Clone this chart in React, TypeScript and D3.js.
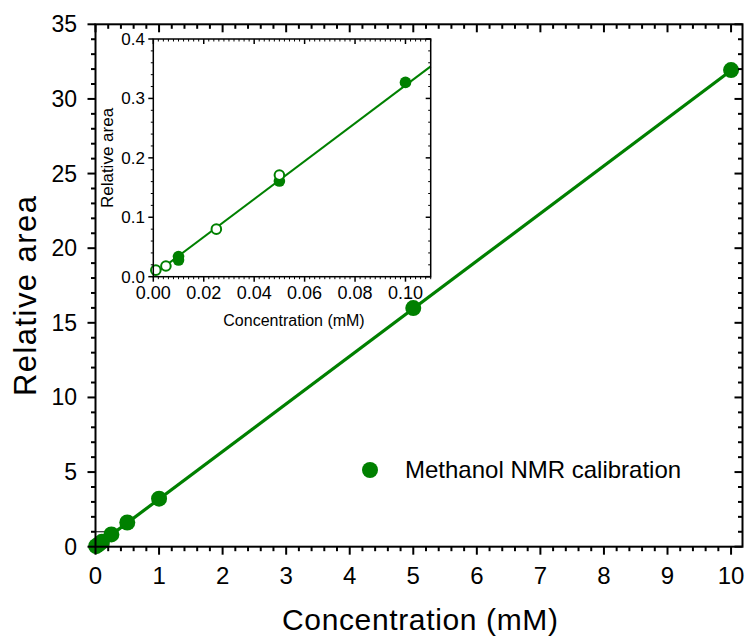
import React from "react";
import * as d3 from "d3";

// ---- data ----
const mainConc = [0.01, 0.05, 0.1, 0.25, 0.5, 1, 5, 10];
const mainArea = [0.033, 0.161, 0.327, 0.82, 1.62, 3.22, 15.99, 31.93];
const insetFilledConc = [0.01, 0.01, 0.05, 0.1];
const insetFilledArea = [0.028, 0.034, 0.161, 0.327];
const insetOpenConc = [0.001, 0.005, 0.025, 0.05];
const insetOpenArea = [0.011, 0.018, 0.08, 0.171];
const fitSlope = 3.19;
const fitIntercept = 0.003;
const mainXTicks = [0, 1, 2, 3, 4, 5, 6, 7, 8, 9, 10];
const mainYTicks = [0, 5, 10, 15, 20, 25, 30, 35];
const insetXTicks = [0, 0.02, 0.04, 0.06, 0.08, 0.1];
const insetYTicks = [0, 0.1, 0.2, 0.3, 0.4];
const legendLabel = "Methanol NMR calibration";
const xTitle = "Concentration (mM)";
const yTitle = "Relative area";

const GREEN = "#008000";
const FONT = "'Liberation Sans', Arial, sans-serif";

export default function App() {
  const W = 748, H = 639;
  const M = { left: 95.5, right: 742.5, top: 24.3, bottom: 546.7 };
  const I = { left: 153.3, right: 430.7, top: 39, bottom: 276.7 };

  const x = d3.scaleLinear().domain([0, 10.18]).range([M.left, M.right]);
  const y = d3.scaleLinear().domain([0, 35]).range([M.bottom, M.top]);
  const ix = d3.scaleLinear().domain([0, 0.11]).range([I.left, I.right]);
  const iy = d3.scaleLinear().domain([0, 0.4]).range([I.bottom, I.top]);

  const mainMinorX = d3.range(0, 10.19, 0.2).filter((v) => Math.abs(v - Math.round(v)) > 1e-6);
  const mainMinorY = d3.range(0, 35.01, 1).filter((v) => v % 5 !== 0);
  const insetMinorX = d3.range(0, 0.1101, 0.002).filter((v) => Math.abs(v / 0.02 - Math.round(v / 0.02)) > 1e-6);
  const insetMinorY = d3.range(0, 0.4001, 0.02).filter((v) => Math.abs(v / 0.1 - Math.round(v / 0.1)) > 1e-6);

  const line = d3.line<number>().x((d) => x(d)).y((d) => y(fitSlope * d + fitIntercept));
  const iline = d3.line<number>().x((d) => ix(d)).y((d) => iy(fitSlope * d + fitIntercept));

  const fmt2 = d3.format(".2f");
  const fmt1 = d3.format(".1f");

  return (
    <svg width={W} height={H} style={{ position: "absolute", left: 0, top: 0, background: "#fff" }} fontFamily={FONT}>
      {/* main fit line */}
      <path d={line([0, 10]) || ""} stroke={GREEN} strokeWidth={3.2} fill="none" />
      {/* zoom rectangle */}
      <rect x={x(0)} y={y(1)} width={x(0.21) - x(0)} height={y(0) - y(1)} fill="none" stroke="#000" strokeWidth={1} />
      {/* main markers */}
      {mainConc.map((c, i) => (
        <circle key={i} cx={x(c)} cy={y(mainArea[i])} r={8} fill={GREEN} />
      ))}

      {/* main axes frame */}
      <rect x={M.left} y={M.top} width={M.right - M.left} height={M.bottom - M.top} fill="none" stroke="#000" strokeWidth={2} />
      {mainXTicks.map((t) => (
        <g key={"mx" + t}>
          <line x1={x(t)} x2={x(t)} y1={M.bottom} y2={M.bottom + 8} stroke="#000" strokeWidth={2} />
          <line x1={x(t)} x2={x(t)} y1={M.top} y2={M.top + 8} stroke="#000" strokeWidth={2} />
          <text x={x(t)} y={584} fontSize={24} textAnchor="middle">{t}</text>
        </g>
      ))}
      {mainMinorX.map((t, i) => (
        <g key={"mmx" + i}>
          <line x1={x(t)} x2={x(t)} y1={M.bottom} y2={M.bottom + 4.5} stroke="#000" strokeWidth={2} />
          <line x1={x(t)} x2={x(t)} y1={M.top} y2={M.top + 4.5} stroke="#000" strokeWidth={2} />
        </g>
      ))}
      {mainYTicks.map((t) => (
        <g key={"my" + t}>
          <line x1={M.left - 8} x2={M.left} y1={y(t)} y2={y(t)} stroke="#000" strokeWidth={2} />
          <line x1={M.right - 8} x2={M.right} y1={y(t)} y2={y(t)} stroke="#000" strokeWidth={2} />
          <text x={77} y={y(t) + 8} fontSize={23} textAnchor="end">{t}</text>
        </g>
      ))}
      {mainMinorY.map((t) => (
        <g key={"mmy" + t}>
          <line x1={M.left - 4.5} x2={M.left} y1={y(t)} y2={y(t)} stroke="#000" strokeWidth={2} />
          <line x1={M.right - 4.5} x2={M.right} y1={y(t)} y2={y(t)} stroke="#000" strokeWidth={2} />
        </g>
      ))}
      <text x={420} y={630} fontSize={30} textAnchor="middle" textLength={276} lengthAdjust="spacing">{xTitle}</text>
      <text transform={`translate(36,296) rotate(-90)`} fontSize={31} textAnchor="middle" textLength={200} lengthAdjust="spacing">{yTitle}</text>

      {/* legend */}
      <circle cx={370} cy={470} r={8} fill={GREEN} />
      <text x={405} y={478} fontSize={24}>{legendLabel}</text>

      {/* inset */}
      <rect x={I.left} y={I.top} width={I.right - I.left} height={I.bottom - I.top} fill="#fff" />
      <path d={iline([0, 0.11]) || ""} stroke={GREEN} strokeWidth={2} fill="none" />
      {insetFilledConc.map((c, i) => (
        <circle key={"if" + i} cx={ix(c)} cy={iy(insetFilledArea[i])} r={5.8} fill={GREEN} />
      ))}
      {insetOpenConc.map((c, i) => (
        <circle key={"io" + i} cx={ix(c)} cy={iy(insetOpenArea[i])} r={4.8} fill="#fff" stroke={GREEN} strokeWidth={2} />
      ))}
      <rect x={I.left} y={I.top} width={I.right - I.left} height={I.bottom - I.top} fill="none" stroke="#000" strokeWidth={1.5} />
      {insetXTicks.map((t) => (
        <g key={"ix" + t}>
          <line x1={ix(t)} x2={ix(t)} y1={I.bottom} y2={I.bottom + 5} stroke="#000" strokeWidth={1.5} />
          <line x1={ix(t)} x2={ix(t)} y1={I.top} y2={I.top + 5} stroke="#000" strokeWidth={1.5} />
          <text x={ix(t)} y={299} fontSize={18} textAnchor="middle">{fmt2(t)}</text>
        </g>
      ))}
      {insetMinorX.map((t, i) => (
        <g key={"imx" + i}>
          <line x1={ix(t)} x2={ix(t)} y1={I.bottom} y2={I.bottom + 2.5} stroke="#000" strokeWidth={1} />
          <line x1={ix(t)} x2={ix(t)} y1={I.top} y2={I.top + 2.5} stroke="#000" strokeWidth={1} />
        </g>
      ))}
      {insetYTicks.map((t) => (
        <g key={"iy" + t}>
          <line x1={I.left - 5} x2={I.left} y1={iy(t)} y2={iy(t)} stroke="#000" strokeWidth={1.5} />
          <line x1={I.right - 5} x2={I.right} y1={iy(t)} y2={iy(t)} stroke="#000" strokeWidth={1.5} />
          <text x={145} y={iy(t) + 6} fontSize={17} textAnchor="end">{fmt1(t)}</text>
        </g>
      ))}
      {insetMinorY.map((t, i) => (
        <g key={"imy" + i}>
          <line x1={I.left - 2.5} x2={I.left} y1={iy(t)} y2={iy(t)} stroke="#000" strokeWidth={1} />
          <line x1={I.right - 2.5} x2={I.right} y1={iy(t)} y2={iy(t)} stroke="#000" strokeWidth={1} />
        </g>
      ))}
      <text x={294} y={326} fontSize={16} textAnchor="middle">{xTitle}</text>
      <text transform={`translate(113,158) rotate(-90)`} fontSize={17} textAnchor="middle">{yTitle}</text>
    </svg>
  );
}
